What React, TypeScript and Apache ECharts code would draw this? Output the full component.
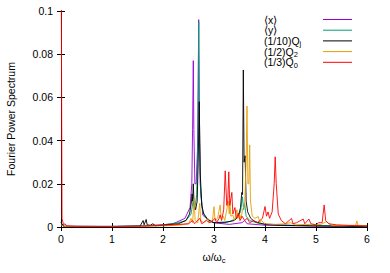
import React, { useEffect, useRef } from "react";
import * as echarts from "echarts";

const seriesNames = ["⟨x⟩", "⟨y⟩", "(1/10)Q{sub|j}", "(1/2)Q{sub|2}", "(1/3)Q{sub|0}"];
const seriesColors = ["#9400d3", "#009e73", "#000000", "#e69f00", "#ff0000"];

const xTicks = [0, 1, 2, 3, 4, 5, 6];
const yTicks = [0, 0.02, 0.04, 0.06, 0.08, 0.1];

const meanX: number[][] = [
  [0, 0.002], [0.05, 0.0003], [1.0, 0.0003], [1.6, 0.0005], [2.0, 0.001], [2.2, 0.0015],
  [2.43, 0.004], [2.53, 0.009], [2.565, 0.02], [2.58, 0.045], [2.594, 0.077], [2.605, 0.045],
  [2.625, 0.02], [2.65, 0.02], [2.675, 0.035], [2.69, 0.065], [2.7, 0.096], [2.71, 0.06],
  [2.73, 0.02], [2.78, 0.0055], [2.9, 0.003], [2.98, 0.002], [3.3, 0.0012], [3.55, 0.002],
  [3.6, 0.003], [3.65, 0.0015], [4, 0.0008], [5, 0.0004], [6, 0.0003],
];

const meanY: number[][] = [
  [0, 0.002], [0.05, 0.0003], [1.0, 0.0003], [1.6, 0.0005], [2.0, 0.001], [2.3, 0.002],
  [2.45, 0.003], [2.55, 0.006], [2.59, 0.012], [2.62, 0.008], [2.66, 0.015], [2.685, 0.04],
  [2.7, 0.095], [2.715, 0.04], [2.74, 0.015], [2.78, 0.007], [2.85, 0.004], [3.0, 0.002],
  [3.3, 0.0025], [3.45, 0.004], [3.52, 0.007], [3.56, 0.014], [3.58, 0.008], [3.6, 0.011],
  [3.63, 0.005], [3.7, 0.003], [3.9, 0.0015], [4.5, 0.0008], [6, 0.0004],
];

const qj: number[][] = [
  [0, 0.002], [0.05, 0.0003], [1.0, 0.0002], [1.55, 0.0004], [1.61, 0.003], [1.63, 0.001],
  [1.67, 0.0035], [1.69, 0.001], [1.75, 0.0008], [1.8, 0.0015], [1.85, 0.0006], [2.0, 0.0008],
  [2.3, 0.0015], [2.45, 0.003], [2.52, 0.006], [2.56, 0.012], [2.57, 0.0153], [2.58, 0.012],
  [2.594, 0.02], [2.61, 0.01], [2.64, 0.008], [2.67, 0.012], [2.69, 0.03], [2.71, 0.058],
  [2.73, 0.025], [2.76, 0.01], [2.8, 0.006], [2.9, 0.003], [3.0, 0.002], [3.2, 0.002],
  [3.4, 0.003], [3.48, 0.005], [3.52, 0.009], [3.545, 0.016], [3.56, 0.015], [3.575, 0.0727],
  [3.59, 0.03], [3.61, 0.033], [3.63, 0.012], [3.66, 0.007], [3.72, 0.004], [3.8, 0.0025],
  [4.0, 0.0012], [4.3, 0.0008], [5, 0.0005], [6, 0.0003],
];

const q2: number[][] = [
  [0, 0.001], [0.05, 0.0003], [1.0, 0.0002], [1.6, 0.0003], [2.0, 0.0005], [2.3, 0.0008],
  [2.5, 0.0015], [2.55, 0.004], [2.58, 0.002], [2.61, 0.013], [2.63, 0.003], [2.68, 0.002],
  [2.72, 0.011], [2.74, 0.003], [2.8, 0.002], [2.88, 0.004], [2.9, 0.002], [2.97, 0.003],
  [3.0, 0.0094], [3.02, 0.003], [3.07, 0.004], [3.12, 0.0102], [3.14, 0.004], [3.18, 0.005],
  [3.21, 0.003], [3.25, 0.008], [3.28, 0.012], [3.3, 0.006], [3.31, 0.012], [3.33, 0.005],
  [3.37, 0.0055], [3.4, 0.003], [3.45, 0.008], [3.47, 0.004], [3.5, 0.006], [3.53, 0.004],
  [3.56, 0.008], [3.6, 0.01], [3.63, 0.03], [3.647, 0.056], [3.665, 0.02], [3.685, 0.02],
  [3.7, 0.038], [3.715, 0.012], [3.75, 0.005], [3.8, 0.004], [3.87, 0.0048], [3.9, 0.002],
  [3.93, 0.003], [4.0, 0.0015], [4.2, 0.0012], [4.4, 0.0015], [4.5, 0.002], [4.6, 0.001],
  [4.8, 0.0012], [4.95, 0.001], [5.1, 0.0012], [5.2, 0.0025], [5.3, 0.0008], [5.5, 0.0006],
  [5.78, 0.0008], [5.8, 0.0028], [5.82, 0.0008], [6, 0.0005],
];

const q0: number[][] = [
  [0, 0.15], [0.02, 0.004], [0.05, 0.001], [0.08, 0.0015], [0.11, 0.0005], [0.3, 0.0003],
  [1.0, 0.0002], [1.6, 0.0004], [1.8, 0.0006], [2.2, 0.001], [2.5, 0.0015], [2.58, 0.003],
  [2.62, 0.0015], [2.72, 0.004], [2.76, 0.0015], [2.85, 0.003], [2.92, 0.002], [3.0, 0.0035],
  [3.02, 0.004], [3.05, 0.002], [3.1, 0.004], [3.12, 0.0056], [3.15, 0.003], [3.19, 0.008],
  [3.22, 0.026], [3.25, 0.01], [3.27, 0.012], [3.29, 0.0255], [3.31, 0.01], [3.35, 0.016],
  [3.37, 0.006], [3.41, 0.009], [3.44, 0.004], [3.48, 0.0064], [3.51, 0.003], [3.55, 0.005],
  [3.6, 0.003], [3.65, 0.004], [3.7, 0.002], [3.78, 0.003], [3.85, 0.002], [3.95, 0.004],
  [4.0, 0.0095], [4.03, 0.005], [4.06, 0.007], [4.09, 0.004], [4.14, 0.007], [4.18, 0.02],
  [4.2, 0.0325], [4.22, 0.02], [4.26, 0.006], [4.32, 0.003], [4.4, 0.0015], [4.52, 0.004],
  [4.55, 0.0015], [4.62, 0.002], [4.75, 0.0037], [4.78, 0.0015], [4.86, 0.0037], [4.9, 0.0015],
  [5.0, 0.001], [5.05, 0.002], [5.12, 0.002], [5.16, 0.0102], [5.19, 0.003], [5.25, 0.0015],
  [5.4, 0.001], [5.6, 0.0008], [5.8, 0.0006], [6, 0.0005],
];

const seriesData = [meanX, meanY, qj, q2, q0];

const FONT = "Liberation Sans, Arial, sans-serif";
const FS = 10.5;

export default function App() {
  const ref = useRef<HTMLDivElement>(null);
  useEffect(() => {
    if (!ref.current) return;
    const chart = echarts.init(ref.current, undefined, { renderer: "svg" });
    const sub = { fontSize: 7.5, fontFamily: FONT, fill: "#000", color: "#000", padding: [6, 0, 0, 0] };
    const base = { fontSize: FS, fontFamily: FONT, color: "#000" };
    const axisCommon = {
      axisLine: { show: true, lineStyle: { color: "#000", width: 1 } },
      axisTick: { show: true, inside: true, length: 4, lineStyle: { color: "#000" } },
      splitLine: { show: false },
    };
    const legendItems: any[] = [];
    seriesNames.forEach((n, i) => {
      const y = 19.5 + i * 10.7;
      legendItems.push({
        type: "text",
        x: 264,
        y,
        style: {
          text: n,
          fontSize: FS,
          fontFamily: FONT,
          fill: "#000",
          align: "left",
          verticalAlign: "middle",
          rich: { sub: { ...sub } },
        },
        silent: true,
      });
      legendItems.push({
        type: "line",
        shape: { x1: 323, y1: y, x2: 352, y2: y },
        style: { stroke: seriesColors[i], lineWidth: 1 },
        silent: true,
      });
    });
    chart.setOption({
      animation: false,
      textStyle: { fontFamily: FONT },
      grid: { left: 61, right: 23, top: 11, bottom: 46, containLabel: false, outerBoundsMode: "none" },
      xAxis: [
        {
          type: "value",
          min: xTicks[0],
          max: xTicks[xTicks.length - 1],
          interval: 1,
          ...axisCommon,
          axisLabel: { show: true, margin: 6, fontSize: FS, fontFamily: FONT, color: "#000" },
          name: "ω/ω{sub|c}",
          nameLocation: "middle",
          nameGap: 23,
          nameTextStyle: { ...base, rich: { sub: { fontSize: 7.5, fontFamily: FONT, color: "#000", padding: [6, 0, 0, 0] } } },
        },
        {
          type: "value",
          position: "top",
          min: xTicks[0],
          max: xTicks[xTicks.length - 1],
          interval: 1,
          ...axisCommon,
          axisLabel: { show: false },
        },
      ],
      yAxis: [
        {
          type: "value",
          min: yTicks[0],
          max: yTicks[yTicks.length - 1],
          interval: 0.02,
          ...axisCommon,
          axisLabel: { show: true, margin: 8, fontSize: FS, fontFamily: FONT, color: "#000" },
          name: "Fourier Power Spectrum",
          nameLocation: "middle",
          nameGap: 45,
          nameRotate: 90,
          nameTextStyle: { ...base },
        },
        {
          type: "value",
          position: "right",
          min: yTicks[0],
          max: yTicks[yTicks.length - 1],
          interval: 0.02,
          ...axisCommon,
          axisLabel: { show: false },
        },
      ],
      series: seriesData.map((d, i) => ({
        type: "line",
        name: seriesNames[i],
        data: d,
        showSymbol: false,
        symbol: "none",
        clip: true,
        lineStyle: { color: seriesColors[i], width: 0.9 },
        itemStyle: { color: seriesColors[i] },
        z: 2 + i,
      })),
      graphic: legendItems,
    });
    return () => chart.dispose();
  }, []);
  return (
    <div
      ref={ref}
      style={{ position: "fixed", left: 0, top: 0, width: 390, height: 273, background: "#fff" }}
    />
  );
}
